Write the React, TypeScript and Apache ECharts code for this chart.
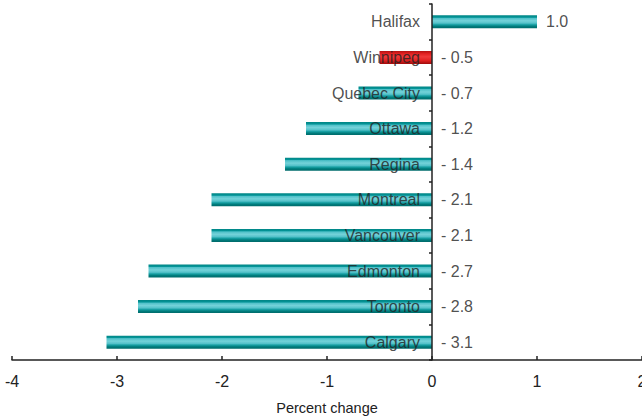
import React, { useEffect, useRef } from "react";
import * as echarts from "echarts";

const cities = ["Calgary", "Toronto", "Edmonton", "Vancouver", "Montreal", "Regina", "Ottawa", "Quebec City", "Winnipeg", "Halifax"];
const changes = [-3.1, -2.8, -2.7, -2.1, -2.1, -1.4, -1.2, -0.7, -0.5, 1.0];
const highlightCity = "Winnipeg";
const xTicks = [-4, -3, -2, -1, 0, 1, 2];

const FONT = "'Liberation Sans', Arial, sans-serif";
const TXT = "#222";

const tealGrad = new echarts.graphic.LinearGradient(0, 0, 0, 1, [
  { offset: 0, color: "#008585" },
  { offset: 0.16, color: "#059598" },
  { offset: 0.22, color: "#4fc0c8" },
  { offset: 0.42, color: "#74d2d9" },
  { offset: 0.6, color: "#55c2ca" },
  { offset: 0.72, color: "#18a0a4" },
  { offset: 0.85, color: "#007c7c" },
  { offset: 1, color: "#006a6a" },
]);
const redGrad = new echarts.graphic.LinearGradient(0, 0, 0, 1, [
  { offset: 0, color: "#b01010" },
  { offset: 0.2, color: "#e02020" },
  { offset: 0.45, color: "#f03a3a" },
  { offset: 0.75, color: "#e02020" },
  { offset: 1, color: "#a00c0c" },
]);

function fmt(v: number): string {
  return v < 0 ? "- " + Math.abs(v).toFixed(1) : v.toFixed(1);
}

export default function App() {
  const ref = useRef<HTMLDivElement>(null);
  useEffect(() => {
    if (!ref.current) return;
    const chart = echarts.init(ref.current, undefined, { renderer: "svg" });
    chart.setOption({
      animation: false,
      grid: { left: 12, right: 0, top: 4, bottom: 59, containLabel: false, outerBoundsMode: "none" },
      xAxis: {
        type: "value",
        min: xTicks[0],
        max: xTicks[xTicks.length - 1],
        interval: 1,
        name: "Percent change",
        nameLocation: "middle",
        nameGap: 40,
        nameTextStyle: { fontFamily: FONT, fontSize: 14.5, color: TXT },
        axisLine: { show: true, lineStyle: { color: "#222", width: 1.5 } },
        axisTick: { show: true, inside: true, length: 4, lineStyle: { color: "#222", width: 1.5 } },
        axisLabel: { fontFamily: FONT, fontSize: 16, color: TXT, margin: 13 },
        splitLine: { show: false },
      },
      yAxis: {
        type: "category",
        data: cities,
        z: 10,
        axisLine: { show: true, onZero: true, lineStyle: { color: "#222", width: 1.5 } },
        axisTick: { show: true, length: 3, lineStyle: { color: "#222", width: 1.5 } },
        axisLabel: { show: false },
        splitLine: { show: false },
      },
      series: [
        {
          type: "bar",
          barWidth: 13,
          data: changes.map((v, i) => ({
            value: v,
            itemStyle: { color: cities[i] === highlightCity ? redGrad : tealGrad },
          })),
        },
        {
          type: "scatter",
          symbolSize: 0,
          z: 11,
          silent: true,
          data: changes.map((v, i) => [0, i]),
          label: {
            show: true,
            position: "left",
            distance: 12,
            formatter: (p: any) => cities[p.dataIndex],
            fontFamily: FONT,
            fontSize: 16,
            color: TXT,
          },
        },
        {
          type: "scatter",
          symbolSize: 0,
          z: 11,
          silent: true,
          data: changes.map((v, i) => [Math.max(v, 0), i]),
          label: {
            show: true,
            position: "right",
            distance: 9,
            formatter: (p: any) => fmt(changes[p.dataIndex]),
            fontFamily: FONT,
            fontSize: 16,
            color: TXT,
          },
        },
      ],
    } as any);
    return () => chart.dispose();
  }, []);
  return (
    <div
      ref={ref}
      style={{ position: "fixed", left: 0, top: 0, width: 642, height: 419, background: "#fff" }}
    />
  );
}
